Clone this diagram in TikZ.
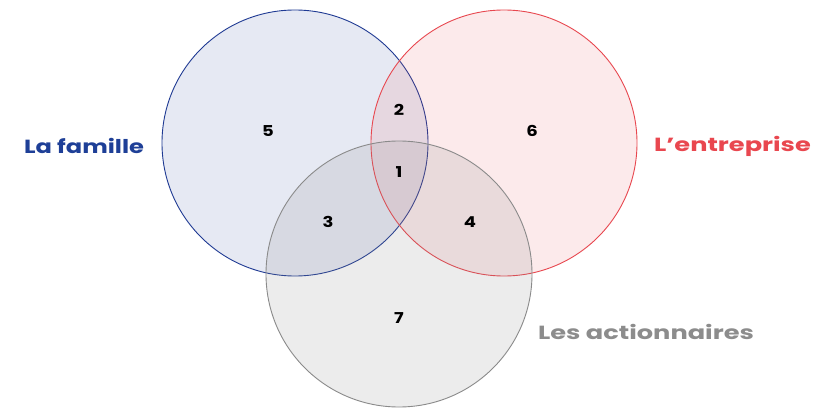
\documentclass[tikz,border=0pt]{standalone}
\usepackage{fontspec}
\setmainfont{Poppins}[UprightFont=* Bold]
\newfontfamily\widefont{Poppins}[UprightFont=* Bold, FakeStretch=1.35]
\newfontfamily\midfont{Poppins}[UprightFont=* Bold, FakeStretch=1.27]
\newfontfamily\numfont{Poppins}[UprightFont=* Bold, FakeStretch=1.2]
\definecolor{fblue}{HTML}{1F3A93}
\definecolor{fred}{HTML}{E8474F}
\definecolor{fgray}{HTML}{8A8A8A}
\definecolor{lblue}{HTML}{1E3F97}
\definecolor{lred}{HTML}{E9474F}
\definecolor{lgray}{HTML}{8C8C8C}
\tikzset{
  venn/.style={line width=0.9pt, fill opacity=0.11},
  num/.style={font=\numfont\fontsize{15}{15}\selectfont, text=black, inner sep=0pt},
  lab/.style={font=\widefont\fontsize{19}{19}\selectfont, inner sep=0pt, anchor=west}
}
\begin{document}
\begin{tikzpicture}[x=1pt,y=1pt]
\useasboundingbox (0,0) rectangle (830,407);
\fill[white] (0,0) rectangle (830,407);
\draw[venn, draw=fblue, fill=fblue] (295,264) circle (133);
\draw[venn, draw=fred, fill=fred] (504,264) circle (133);
\draw[venn, draw=fgray, fill=fgray, fill opacity=0.16] (399,133) circle (133);
\node[num] (n5) at (268,276) {5};
\node[num] (n2) at (399,297) {2};
\node[num] (n6) at (532,276) {6};
\node[num] (n1) at (399,235) {1};
\node[num] (n3) at (328,185) {3};
\node[num] (n4) at (470,185) {4};
\node[num] (n7) at (399,89) {7};
\node[lab, text=lblue, font=\midfont\fontsize{19}{19}\selectfont] (lf) at (24,261) {La famille};
\node[lab, text=lred] (le) at (654,261) {L’entreprise};
\node[lab, text=lgray] (la) at (538,75) {Les actionnaires};
\end{tikzpicture}
\end{document}
